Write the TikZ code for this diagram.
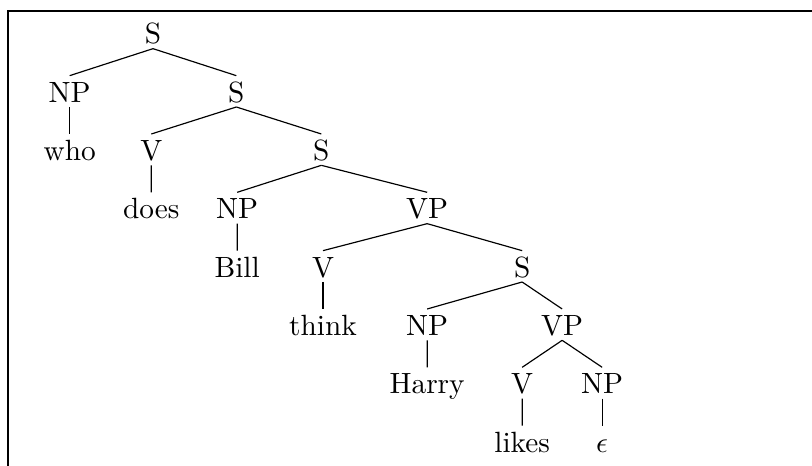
\documentclass[tikz,border=0pt]{standalone}
\tikzset{
	treenode/.style = {align=center, inner xsep=1pt, inner ysep=1.4pt, text height=7.5pt, text depth=0pt},
	cat/.style = {treenode},
	word/.style = {treenode},
	frameline/.style = {line width=0.9pt}
}

\begin{document}
\begin{tikzpicture}[
	level/.style={level distance=0.7cm},
	level 1/.style={sibling distance = 2cm},
	level 2/.style={sibling distance = 2.04cm},
	level 3/.style={sibling distance = 2.28cm},
	level 4/.style={sibling distance = 2.39cm},
	level 5/.style={sibling distance = 1.62cm},
	level 6/.style={sibling distance = 0.96cm},
	edge from parent path={(\tikzparentnode.south) -- (\tikzchildnode.north)}
]
\useasboundingbox (-1.836,-5.196) rectangle (7.908,0.396);
\draw [frameline] (-1.74,-5.3) |- (8,0.264);
\node [cat] (s0) {S}
child{ node [cat] (np1) {NP}
	child{ node [word] (who) {who}}
}
child{ node [cat] (s1) {S}
	child{ node [cat] (v2) {V}
		child{ node [word] (does) {does}}
	}
	child{ node [cat] (s2) {S}
		child[xshift=0.13cm]{ node [cat] (np3) {NP}
			child{ node [word] (bill) {Bill}}
		}
		child[xshift=0.13cm]{ node [cat] (vp3) {VP}
			child[xshift=-0.055cm]{ node [cat] (v4) {V}
				child{ node [word] (think) {think}}
			}
			child[xshift=-0.055cm]{ node [cat] (s4) {S}
				child[xshift=-0.33cm]{ node [cat] (np5) {NP}
					child{ node [word] (harry) {Harry}}
				}
				child[xshift=-0.33cm]{ node [cat] (vp5) {VP}
					child{ node [cat] (v6) {V}
						child{ node [word] (likes) {likes}}
					}
					child{ node [cat] (np6) {NP}
						child{ node [word] (eps) {$\epsilon$}}
					}
				}
			}
		}
	}
}
;
\end{tikzpicture}
\end{document}
